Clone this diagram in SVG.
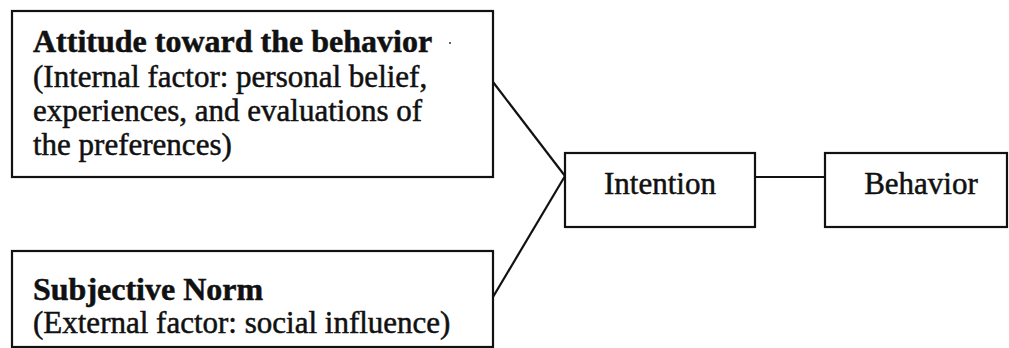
<svg xmlns="http://www.w3.org/2000/svg" width="1009" height="348" viewBox="0 0 1009 348">
  <style>
    .box { fill: #ffffff; stroke: #111111; stroke-width: 2.2; }
    .conn { fill: none; stroke: #111111; stroke-width: 2.2; }
    .t { font-family: 'Liberation Serif', 'DejaVu Serif', serif; font-size: 31px; fill: #111111; stroke: #111111; stroke-width: 0.5; }
    .head { font-weight: bold; font-size: 32px; }
    .mid { text-anchor: middle; }
  </style>
  <rect width="1009" height="348" fill="#ffffff"/>

  <g id="connectors">
    <line class="conn" x1="493" y1="82" x2="565" y2="176"/>
    <line class="conn" x1="565" y1="176" x2="493" y2="297"/>
    <line class="conn" x1="755" y1="177" x2="825" y2="177"/>
  </g>

  <g id="attitude">
    <rect class="box" x="12" y="11" width="481" height="166"/>
    <text class="t head" x="33" y="52">Attitude toward the behavior</text>
    <circle cx="450" cy="43" r="1" fill="#333333"/>
    <text class="t" x="33" y="87">(Internal factor: personal belief,</text>
    <text class="t" x="33" y="121">experiences, and evaluations of</text>
    <text class="t" x="33" y="155">the preferences)</text>
  </g>

  <g id="norm">
    <rect class="box" x="12" y="251" width="481" height="96"/>
    <text class="t head" x="33" y="300">Subjective Norm</text>
    <text class="t" x="33" y="333">(External factor: social influence)</text>
  </g>

  <g id="intention">
    <rect class="box" x="565" y="153" width="190" height="74"/>
    <text class="t mid" x="660" y="194">Intention</text>
  </g>

  <g id="behavior">
    <rect class="box" x="825" y="153" width="182" height="74"/>
    <text class="t mid" x="921" y="194">Behavior</text>
  </g>
</svg>
